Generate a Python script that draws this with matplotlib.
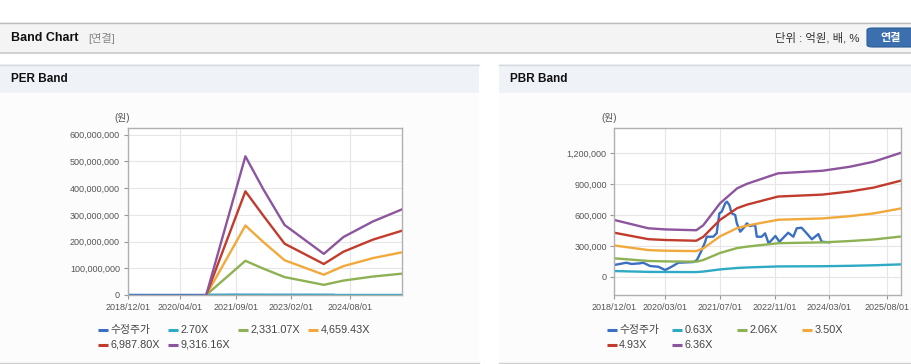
import pandas as pd
import matplotlib
matplotlib.use('Agg')
import matplotlib.pyplot as plt
from matplotlib.patches import Rectangle, FancyBboxPatch
from matplotlib.lines import Line2D

plt.rcParams['font.family'] = ['Liberation Sans', 'Noto Sans CJK KR']

W, H = 912, 364

# 수정주가 (adjusted price, won)
price_dates = ['2018-12-01', '2019-03-19', '2019-05-04', '2019-07-16', '2019-08-16', '2019-10-16',
               '2019-12-28', '2020-02-28', '2020-04-25', '2020-06-25', '2020-11-07', '2020-12-07',
               '2021-01-19', '2021-02-19', '2021-03-04', '2021-05-01', '2021-06-01', '2021-06-25',
               '2021-07-16', '2021-08-16', '2021-09-01', '2021-09-22', '2021-10-13', '2021-11-13',
               '2021-11-28', '2021-12-28', '2022-02-01', '2022-02-25', '2022-03-25', '2022-05-10',
               '2022-05-25', '2022-07-07', '2022-08-07', '2022-09-07', '2022-11-07', '2022-12-13',
               '2023-03-01', '2023-04-16', '2023-05-16', '2023-06-28', '2023-08-13', '2023-09-28',
               '2023-11-25', '2023-12-25', '2024-03-01']
price_vals = [114000, 136000, 124000, 130000, 136000, 104000,
              97000, 65000, 97000, 136000, 143000, 162000,
              260000, 340000, 389000, 389000, 422000, 617000,
              632000, 714000, 730000, 697000, 617000, 600000,
              519000, 438000, 480000, 519000, 493000, 503000,
              389000, 389000, 422000, 325000, 396000, 340000,
              428000, 389000, 471000, 477000, 422000, 364000,
              415000, 340000, 335000]

# PER band
per_dates = ['2020-12-01', '2021-12-01', '2022-05-15', '2022-12-01', '2023-12-01',
             '2024-06-01', '2025-03-01', '2025-12-01']
per_270 = [0, 150000, 115000, 76000, 44000, 61000, 80000, 93000]
per_2331 = [0, 128000000, 99000000, 67000000, 38000000, 54000000, 69000000, 80000000]
per_4659 = [0, 260000000, 199000000, 130000000, 76000000, 108000000, 138000000, 160000000]
per_6988 = [0, 388000000, 298000000, 192000000, 116000000, 162000000, 207000000, 241000000]
per_9316 = [0, 519000000, 397000000, 262000000, 154000000, 217000000, 275000000, 321000000]
per_labels = ['수정주가', '2.70X', '2,331.07X', '4,659.43X', '6,987.80X', '9,316.16X']
per_ticks = ['2018-12-01', '2020-04-01', '2021-09-01', '2023-02-01', '2024-08-01']
per_yticks = [0, 100000000, 200000000, 300000000, 400000000, 500000000, 600000000]

# PBR band
pbr_dates = ['2018-12-01', '2019-10-01', '2020-03-01', '2020-12-01', '2021-02-01', '2021-07-01',
             '2021-12-01', '2022-03-01', '2022-12-01', '2024-01-01', '2024-09-01', '2025-04-01',
             '2025-12-01']
pbr_063 = [55000, 47000, 46000, 45000, 50000, 71000, 85000, 90000, 100000, 102000, 106000, 111000, 120000]
pbr_206 = [179000, 153000, 149000, 146000, 162000, 231000, 279000, 293000, 326000, 334000, 347000, 362000, 391000]
pbr_350 = [304000, 259000, 253000, 249000, 275000, 393000, 473000, 498000, 554000, 567000, 589000, 616000, 664000]
pbr_493 = [428000, 365000, 357000, 350000, 388000, 553000, 667000, 702000, 780000, 799000, 829000, 867000, 935000]
pbr_636 = [552000, 471000, 460000, 452000, 500000, 714000, 860000, 905000, 1006000, 1031000, 1070000, 1119000, 1206000]
pbr_labels = ['수정주가', '0.63X', '2.06X', '3.50X', '4.93X', '6.36X']
pbr_ticks = ['2018-12-01', '2020-03-01', '2021-07-01', '2022-11-01', '2024-03-01', '2025-08-01']
pbr_yticks = [0, 300000, 600000, 900000, 1200000]

colors = ['#3b6fc1', '#2eaac4', '#8db153', '#f2a93b', '#c23b2c', '#8c559d']


def fx(x):
    return x / W


def fy(y):
    return 1 - y / H


def rect(fig, x0, y0, x1, y1, color, z=-5):
    fig.add_artist(Rectangle((fx(x0), fy(y1)), (x1 - x0) / W, (y1 - y0) / H,
                             transform=fig.transFigure, facecolor=color,
                             edgecolor='none', zorder=z))


def hline(fig, x0, x1, y, color, lw=1.0):
    fig.add_artist(Line2D([fx(x0), fx(x1)], [fy(y), fy(y)], transform=fig.transFigure,
                          color=color, lw=lw, zorder=-4))


fig = plt.figure(figsize=(W / 100, H / 100), dpi=100)
fig.patch.set_facecolor('white')

# top header bar
rect(fig, 0, 22, W, 52, '#f4f4f4')
hline(fig, 0, W, 22.5, '#bdbdbd')
hline(fig, 0, W, 52.5, '#c8c8c8', lw=1.2)
fig.text(fx(11), fy(38), 'Band Chart', fontsize=9, fontweight='bold', color='#111111', va='center')
fig.text(fx(88), fy(38), '[연결]', fontsize=8, color='#888888', va='center')
fig.text(fx(860), fy(38), '단위 : 억원, 배, %', fontsize=8.2, color='#333333', va='center', ha='right')
fig.add_artist(FancyBboxPatch((fx(867), fy(47)), (918 - 867) / W, 19 / H,
                              boxstyle='round,pad=0,rounding_size=0.006',
                              transform=fig.transFigure, facecolor='#3c6fae',
                              edgecolor='#2f5d98', lw=0.8, zorder=2))
fig.text(fx(891), fy(37.5), '연결', fontsize=8, fontweight='bold', color='white',
         va='center', ha='center', zorder=3)

# panels
for x0, x1, title in [(0, 479, 'PER Band'), (499, W, 'PBR Band')]:
    rect(fig, x0, 64, x1, 92.5, '#eff2f7')
    rect(fig, x0, 92.5, x1, 363, '#fcfcfc')
    hline(fig, x0, x1, 64.5, '#d6d9de')
    hline(fig, x0, x1, 363, '#cfcfcf')
    fig.text(fx(x0 + 11.5), fy(79.5), title, fontsize=8.5, fontweight='bold',
             color='#111111', va='center')


def style_axes(ax, ticks, yticks, ylim, fmt):
    ax.set_facecolor('white')
    ax.set_xlim(pd.Timestamp('2018-12-01'), pd.Timestamp('2025-12-01'))
    ax.set_ylim(*ylim)
    ax.set_xticks(pd.to_datetime(ticks))
    ax.set_xticklabels([t.replace('-', '/') for t in ticks])
    ax.set_yticks(yticks)
    ax.set_yticklabels([fmt(v) for v in yticks])
    ax.grid(True, color='#e6e6e6', lw=0.8)
    ax.set_axisbelow(True)
    for s in ax.spines.values():
        s.set_color('#b0b0b0')
        s.set_linewidth(1.0)
    ax.tick_params(axis='both', labelsize=6.5, labelcolor='#555555', color='#999999',
                   length=3, width=0.8, pad=2.5)


def legend(fig, x0s, rows, labels):
    for i, lab in enumerate(labels):
        col, row = i % 4, i // 4
        x, y = x0s[col], rows[row]
        fig.add_artist(Line2D([fx(x), fx(x + 10)], [fy(y), fy(y)], transform=fig.transFigure,
                              color=colors[i], lw=2.2, solid_capstyle='butt', zorder=5))
        fig.text(fx(x + 12.5), fy(y), lab, fontsize=7.8, color='#444444', va='center')


# PER axes
ax1 = fig.add_axes([fx(127.7), fy(295), 274.6 / W, 167 / H])
ax1.plot(pd.to_datetime(price_dates), price_vals, color=colors[0], lw=1.7)
per_series = [per_270, per_2331, per_4659, per_6988, per_9316]
for c, vals in zip(colors[1:], per_series):
    ax1.plot(pd.to_datetime(per_dates), vals, color=c, lw=1.7)
style_axes(ax1, per_ticks, per_yticks, (0, 625000000), lambda v: f'{v:,}')
fig.text(fx(122), fy(118), '(원)', fontsize=7, color='#555555', ha='center', va='center')
legend(fig, [98, 168, 238, 308], [330, 344.5], per_labels)

# PBR axes
ax2 = fig.add_axes([fx(614.3), fy(295), 286.7 / W, 166.7 / H])
ax2.plot(pd.to_datetime(price_dates), price_vals, color=colors[0], lw=1.7)
pbr_series = [pbr_063, pbr_206, pbr_350, pbr_493, pbr_636]
for c, vals in zip(colors[1:], pbr_series):
    ax2.plot(pd.to_datetime(pbr_dates), vals, color=c, lw=1.7)
style_axes(ax2, pbr_ticks, pbr_yticks, (-178000, 1444000), lambda v: f'{v:,}')
fig.text(fx(609), fy(118), '(원)', fontsize=7, color='#555555', ha='center', va='center')
legend(fig, [606.7, 671.7, 736.7, 801.7], [330, 344.5], pbr_labels)

fig.savefig('out.png', dpi=100)
